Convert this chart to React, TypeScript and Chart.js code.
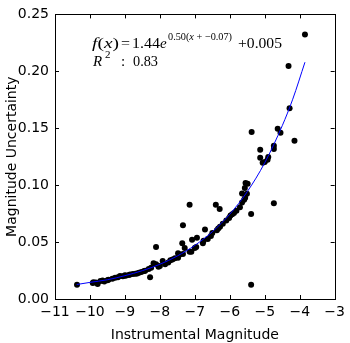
import React, { useEffect, useRef } from "react";
import { Chart, registerables } from "chart.js";

Chart.register(...registerables);

const pointX = [
  -10.37, -9.92, -9.83, -9.78, -9.64, -9.59, -9.47, -9.36, -9.28, -9.14, -9.06, -8.98, -8.89, -8.77, -8.65, -8.53,
  -8.42, -8.32, -8.28, -8.18, -8.11, -8.11, -8.04, -7.92, -7.85, -7.76, -7.64, -7.57, -7.48,
  -9.7, -9.2, -8.85, -8.7, -8.6, -8.45, -8.25, -8.0, -7.7, -9.9, -9.5, -9.0,
  -7.48, -7.43, -7.34, -7.29, -7.15, -7.1, -7.0, -6.96, -7.36, -7.08, -6.94, -6.77, -6.75, -6.63, -6.54,
  -6.71, -6.37, -6.33, -6.28, -7.34, -7.15, -6.4, -6.29, -6.02, -5.98, -5.88, -5.81, -5.71, -5.65, -5.59,
  -5.56, -5.65, -5.51, -5.57, -5.55, -5.49, -5.39, -5.39, -4.74, -5.13, -5.13, -5.06, -5.0, -4.92, -4.9,
  -4.74, -4.74, -5.375, -4.63, -4.55, -4.15, -4.29, -4.32, -3.85,
  -6.5, -6.2, -6.1, -5.93,
];
const pointY = [
  0.0126, 0.014, 0.0146, 0.0131, 0.0163, 0.0154, 0.0169, 0.0177, 0.0186, 0.0203, 0.02, 0.0205, 0.0211, 0.022, 0.0225, 0.0237,
  0.0248, 0.0263, 0.0191, 0.0314, 0.0305, 0.0456, 0.0283, 0.0334, 0.0305, 0.032, 0.0348, 0.0357, 0.0402,
  0.0158, 0.019, 0.0215, 0.0222, 0.023, 0.0245, 0.0275, 0.029, 0.034, 0.0148, 0.0165, 0.0208,
  0.0362, 0.0391, 0.0396, 0.0448, 0.0414, 0.0414, 0.0448, 0.0456, 0.049, 0.052, 0.0539, 0.049, 0.0511, 0.0528, 0.0554,
  0.061, 0.0605, 0.0619, 0.0634, 0.0648, 0.0828, 0.0828, 0.079, 0.0711, 0.0734, 0.0756, 0.0776, 0.0805, 0.0848, 0.0872,
  0.089, 0.0927, 0.0925, 0.0976, 0.1019, 0.1013, 0.0747, 0.0126, 0.0842, 0.1312, 0.1241, 0.1196, 0.1204, 0.1224, 0.1247,
  0.1318, 0.1347, 0.1467, 0.1495, 0.1461, 0.139, 0.1676, 0.2046, 0.2323,
  0.058, 0.066, 0.069, 0.0745,
];

// Fitted curve
const curveX = [-10.38, -10, -9.5, -9, -8.5, -8, -7.5, -7, -6.5, -6, -5.5, -5, -4.5, -4.2, -3.85];
const curveY = [0.0127, 0.0146, 0.0169, 0.0205, 0.0249, 0.0305, 0.0378, 0.0471, 0.0591, 0.0745, 0.0943, 0.1197, 0.1522, 0.1755, 0.208];

const xTicks = [-11, -10, -9, -8, -7, -6, -5, -4, -3];
const yTicks = [0, 0.05, 0.1, 0.15, 0.2, 0.25];

const xTitle = "Instrumental Magnitude";
const yTitle = "Magnitude Uncertainty";

const fmtMinus = (v: number) => (v < 0 ? "\u2212" + String(Math.abs(v)) : String(v));

const framePlugin = {
  id: "frame",
  afterDraw(chart: any) {
    const { ctx, chartArea } = chart;
    const { left, right, top, bottom } = chartArea;
    const xs = chart.scales.x;
    const ys = chart.scales.y;
    ctx.save();
    ctx.strokeStyle = "#000";
    ctx.lineWidth = 1;
    ctx.beginPath();
    const tl = 4;
    xTicks.forEach((t) => {
      const px = Math.round(xs.getPixelForValue(t)) + 0.5;
      ctx.moveTo(px, bottom);
      ctx.lineTo(px, bottom - tl);
      ctx.moveTo(px, top);
      ctx.lineTo(px, top + tl);
    });
    yTicks.forEach((t) => {
      const py = Math.round(ys.getPixelForValue(t)) + 0.5;
      ctx.moveTo(left, py);
      ctx.lineTo(left + tl, py);
      ctx.moveTo(right, py);
      ctx.lineTo(right - tl, py);
    });
    ctx.stroke();
    ctx.strokeRect(Math.round(left) + 0.5, Math.round(top) + 0.5, Math.round(right - left), Math.round(bottom - top));

    // annotation
    ctx.fillStyle = "#000";
    ctx.textBaseline = "alphabetic";
    const big = "15px 'Liberation Serif'";
    const bigI = "italic 15px 'Liberation Serif'";
    const sm = "11px 'Liberation Serif'";
    const smI = "italic 11px 'Liberation Serif'";
    const put = (s: string, f: string, x: number, y: number) => {
      ctx.font = f;
      ctx.fillText(s, x, y);
      return x + ctx.measureText(s).width;
    };
    // fits a run of pieces into [x0, x1] by horizontal scaling
    const run = (pieces: [string, string][], x0: number, x1: number, y: number) => {
      let w = 0;
      pieces.forEach(([s, f]) => {
        ctx.font = f;
        w += ctx.measureText(s).width;
      });
      const k = (x1 - x0) / w;
      ctx.save();
      ctx.translate(x0, y);
      ctx.scale(k, 1);
      let x = 0;
      pieces.forEach(([s, f]) => {
        x = put(s, f, x, 0);
      });
      ctx.restore();
    };
    const y1 = 48;
    run([["f", bigI], ["(", big], ["x", bigI], [")", big]], 92, 119, y1);
    run([["=", big]], 121, 130, y1);
    run([["1.44", big]], 132, 160, y1);
    put("e", bigI, 160, y1);
    run([["0.50(", sm], ["x", smI], [" + \u22120.07)", sm]], 168, 232, 40);
    run([["+0.005", big]], 238, 282, y1);

    const y2 = 66;
    put("R", bigI, 93, y2);
    put("2", sm, 105, y2 - 8);
    put(":", big, 121, y2);
    run([["0.83", big]], 133, 158, y2);
    ctx.restore();
  },
};

export default function App() {
  const ref = useRef<HTMLCanvasElement>(null);
  useEffect(() => {
    document.body.style.margin = "0";
    const pts = pointX.map((x, i) => ({ x, y: pointY[i] }));
    const curve = curveX.map((x, i) => ({ x, y: curveY[i] }));
    const font = { family: "'DejaVu Sans'", size: 14 };
    const chart = new Chart(ref.current!, {
      type: "scatter",
      data: {
        datasets: [
          {
            type: "line",
            data: curve,
            borderColor: "#0000ff",
            borderWidth: 1,
            pointRadius: 0,
            cubicInterpolationMode: "monotone",
            fill: false,
          } as any,
          {
            data: pts,
            backgroundColor: "#000",
            borderColor: "#000",
            pointRadius: 3,
            borderWidth: 0,
          },
        ],
      },
      options: {
        responsive: false,
        animation: false,
        devicePixelRatio: 1,
        layout: { padding: { top: 7, right: 11, left: 0, bottom: 0 } },
        plugins: { legend: { display: false }, tooltip: { enabled: false } },
        scales: {
          x: {
            type: "linear",
            min: -11,
            max: -3,
            afterBuildTicks: (s: any) => {
              s.ticks = xTicks.map((v) => ({ value: v }));
            },
            afterFit: (s: any) => {
              s.height = 44;
            },
            grid: { display: false, drawTicks: false },
            border: { display: false },
            ticks: {
              color: "#000",
              font,
              padding: 5,
              maxRotation: 0,
              autoSkip: false,
              callback: (v: any) => fmtMinus(Number(v)),
            },
            title: { display: true, text: xTitle, color: "#000", font, padding: { top: 0, bottom: -1 } },
          },
          y: {
            type: "linear",
            min: 0,
            max: 0.25,
            afterBuildTicks: (s: any) => {
              s.ticks = yTicks.map((v) => ({ value: v }));
            },
            afterFit: (s: any) => {
              s.width = 55;
            },
            grid: { display: false, drawTicks: false },
            border: { display: false },
            ticks: {
              color: "#000",
              font,
              padding: 6,
              autoSkip: false,
              callback: (v: any) => Number(v).toFixed(2),
            },
            title: { display: true, text: yTitle, color: "#000", font, padding: { top: 4, bottom: 0 } },
          },
        },
      },
      plugins: [framePlugin],
    });
    return () => chart.destroy();
  }, []);
  return (
    <div style={{ position: "absolute", left: 0, top: 0, width: 350, height: 343 }}>
      <canvas ref={ref} width={350} height={343} style={{ width: 350, height: 343 }} />
    </div>
  );
}
